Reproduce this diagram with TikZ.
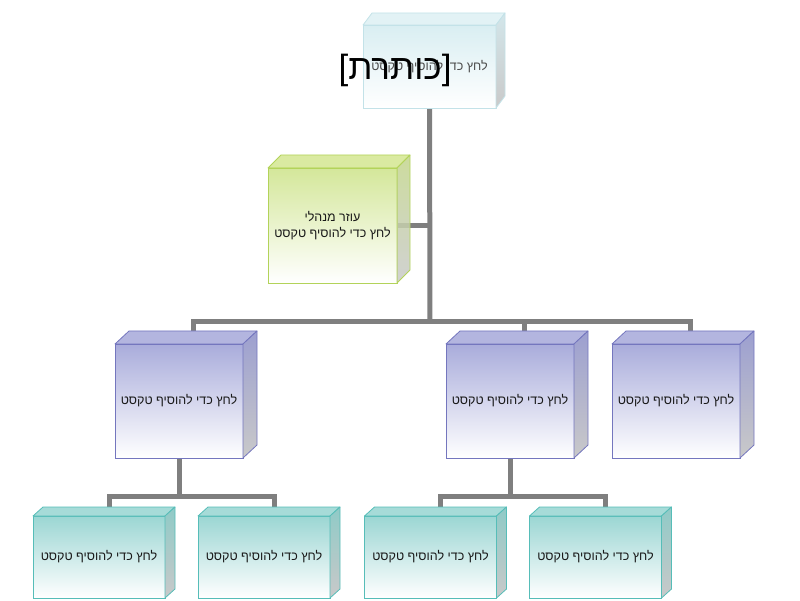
\documentclass[tikz,border=0pt]{standalone}
\usepackage{fontspec}
\setmainfont{Liberation Sans}
\newfontfamily\heb[Script=Hebrew]{Liberation Sans}
\newfontfamily\latin{Liberation Sans}
\TeXXeTstate=1
\usetikzlibrary{calc,backgrounds}
\definecolor{conngray}{HTML}{7F7F7F}
\definecolor{sidegray}{HTML}{C9C9C9}
% top box
\definecolor{tfront}{HTML}{D9EEF2}
\definecolor{tborder}{HTML}{C3E2E8}
\definecolor{ttop}{HTML}{E2F2F5}
\definecolor{tside}{HTML}{D3E6EA}
% green
\definecolor{gfront}{HTML}{D4E79A}
\definecolor{gborder}{HTML}{B3D35A}
\definecolor{gtop}{HTML}{D3E690}
\definecolor{gside}{HTML}{C3D68C}
% purple
\definecolor{pfront}{HTML}{A9ACDB}
\definecolor{pborder}{HTML}{7476BE}
\definecolor{ptop}{HTML}{B3B5DF}
\definecolor{pside}{HTML}{9C9FD0}
% teal
\definecolor{cfront}{HTML}{9BD6D3}
\definecolor{cborder}{HTML}{56BDB8}
\definecolor{ctop}{HTML}{A6DBD8}
\definecolor{cside}{HTML}{8FCAC7}
\newcommand\cubefaces[6]{%
  \fill[#4, draw=#6, line width=0.8pt, line join=round] (#1.north west) -- ($(#1.north west)+(#2,#3)$) -- ($(#1.north east)+(#2,#3)$) -- (#1.north east) -- cycle;
  \shade[top color=#5, bottom color=sidegray, draw=#6, line width=0.8pt, line join=round] (#1.north east) -- ($(#1.north east)+(#2,#3)$) -- ($(#1.south east)+(#2,#3)$) -- (#1.south east) -- cycle;
}
\tikzset{
  conn/.style={draw=conngray, line width=5pt, line join=miter},
  box/.style={rectangle, outer sep=0pt, line width=0.8pt, align=center, text=black!90,
    font=\heb\fontsize{12.5}{16}\selectfont},
  topbox/.style={box, minimum width=133pt, minimum height=83pt, top color=tfront, bottom color=white, draw=tborder, text=black!70},
  greenbox/.style={box, minimum width=129pt, minimum height=115pt, top color=gfront, bottom color=white, draw=gborder},
  purplebox/.style={box, minimum width=128pt, minimum height=114pt, top color=pfront, bottom color=white, draw=pborder},
  tealbox/.style={box, minimum width=132pt, minimum height=82pt, top color=cfront, bottom color=white, draw=cborder},
  titletext/.style={font=\fontsize{35}{40}\selectfont, text=black, inner sep=0pt}
}
\begin{document}
\begin{tikzpicture}[x=1pt, y=1pt]
\useasboundingbox (0,0) rectangle (800,600);

% nodes
\node[topbox] (top) at (429.5,533.5) {\beginR לחץ כדי להוסיף טקסט\endR};
\node[greenbox] (asst) at (332.5,374.5) {\beginR עוזר מנהלי\endR\\\beginR לחץ כדי להוסיף טקסט\endR};
\node[purplebox] (p1) at (179,199) {\beginR לחץ כדי להוסיף טקסט\endR};
\node[purplebox] (p2) at (510,199) {\beginR לחץ כדי להוסיף טקסט\endR};
\node[purplebox] (p3) at (676,199) {\beginR לחץ כדי להוסיף טקסט\endR};
\node[tealbox] (t1) at (99,43) {\beginR לחץ כדי להוסיף טקסט\endR};
\node[tealbox] (t2) at (264,43) {\beginR לחץ כדי להוסיף טקסט\endR};
\node[tealbox] (t3) at (430.5,43) {\beginR לחץ כדי להוסיף טקסט\endR};
\node[tealbox] (t4) at (595.5,43) {\beginR לחץ כדי להוסיף טקסט\endR};

% 3D faces
\cubefaces{top}{9}{12}{ttop}{tside}{tborder}
\begin{scope}[fill opacity=0.85]
\cubefaces{asst}{13}{13}{gtop}{gside}{gborder}
\end{scope}
\cubefaces{p1}{14}{13}{ptop}{pside}{pborder}
\cubefaces{p2}{14}{13}{ptop}{pside}{pborder}
\cubefaces{p3}{14}{13}{ptop}{pside}{pborder}
\cubefaces{t1}{10}{9}{ctop}{cside}{cborder}
\cubefaces{t2}{10}{9}{ctop}{cside}{cborder}
\cubefaces{t3}{10}{9}{ctop}{cside}{cborder}
\cubefaces{t4}{10}{9}{ctop}{cside}{cborder}

% title
\node[titletext] (title) at (395,530) {{\latin[}{\heb\beginR כותרת\endR}{\latin]}};

% connectors
\coordinate (p1t) at ($(p1.north)+(14,13)$);
\coordinate (p2t) at ($(p2.north)+(14,13)$);
\coordinate (p3t) at ($(p3.north)+(14,13)$);
\coordinate (t1t) at ($(t1.north)+(10,9)$);
\coordinate (t2t) at ($(t2.north)+(10,9)$);
\coordinate (t3t) at ($(t3.north)+(10,9)$);
\coordinate (t4t) at ($(t4.north)+(10,9)$);
\coordinate (hub) at (430,278);
\coordinate (h1) at ($(p1.south)+(0,-38)$);
\coordinate (h2) at ($(p2.south)+(0,-38)$);
\begin{pgfonlayer}{background}
\draw[conn] (top.south) -- (hub);
\draw[conn] (asst.east) -- (asst.east -| hub);
\draw[conn] (p1t) |- (hub) -| (p3t);
\draw[conn] (p2t) -- (p2t |- hub);
\draw[conn] (p1.south) -- (h1);
\draw[conn] (t1t) |- (h1) -| (t2t);
\draw[conn] (p2.south) -- (h2);
\draw[conn] (t3t) |- (h2) -| (t4t);
\end{pgfonlayer}
\end{tikzpicture}
\end{document}
